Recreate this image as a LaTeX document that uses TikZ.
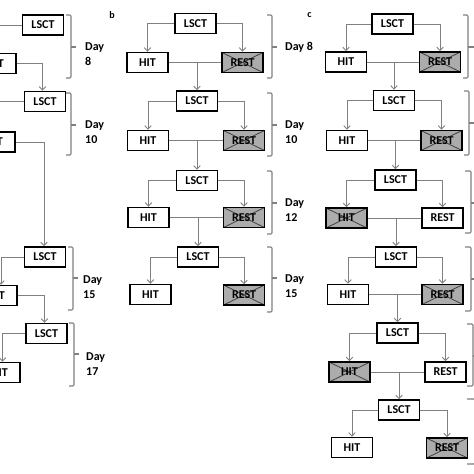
\documentclass[tikz,border=0pt]{standalone}
\usepackage{fontspec}
\setmainfont{Carlito}
\usetikzlibrary{arrows.meta}
\begin{document}
\begin{tikzpicture}[x=1pt,y=-1pt,
  box/.style={draw=black, line width=1.5pt, minimum width=41pt, minimum height=20pt, inner sep=0pt,
    fill=white, font=\bfseries\fontsize{12}{14}\selectfont},
  xbox/.style={box, fill=gray!65, path picture={\draw[line width=0.8pt, black!75]
    (path picture bounding box.north west) -- (path picture bounding box.south east)
    (path picture bounding box.south west) -- (path picture bounding box.north east);}},
  conn/.style={draw=gray, line width=0.9pt},
  arr/.style={conn, -{Straight Barb[length=3.5pt, width=6.5pt]}},
  brk/.style={draw=gray, line width=1.1pt, rounded corners=1.2pt},
  day/.style={anchor=west, align=left, inner sep=0pt, font=\bfseries\fontsize{12}{15}\selectfont},
  plabel/.style={inner sep=0pt, font=\bfseries\fontsize{10}{12}\selectfont}]
\useasboundingbox (0,0) rectangle (474,474);
\clip (0,0) rectangle (474,474);
\fill[white] (0,0) rectangle (474,474);

% ---------- panel a ----------
\node[box] (La1) at (43,25) {LSCT};
\node[box] (Ha1) at (-4.5,63.5) {HIT};
\node[box] (La2) at (45,101.5) {LSCT};
\node[box] (Ha2) at (-5.5,142) {HIT};
\node[box] (La3) at (45,257) {LSCT};
\node[box] (Ha3) at (-3.5,295.5) {HIT};
\node[box] (La4) at (46.5,333.5) {LSCT};
\node[box] (Ha4) at (-0.5,372.5) {HIT};

\draw[arr] (La1.west) -| (Ha1.north);
\draw[arr] (Ha1.east) -| ([xshift=-2.5pt]La2.north);
\draw[arr] (La2.west) -| (Ha2.north);
\draw[arr] (Ha2.east) -| ([xshift=-1pt]La3.north);
\draw[arr] (La3.west) -| ([xshift=4.5pt]Ha3.north);
\draw[arr] (Ha3.east) -| ([xshift=-2pt]La4.north);
\draw[arr] (La4.west) -| ([xshift=3pt]Ha4.north);

\draw[brk] (66,15) -- (71,15) -- (71,78) -- (66,78);  \draw[brk] (71,47) -- (76,47);
\draw[brk] (66,93) -- (71,93) -- (71,155) -- (66,155); \draw[brk] (71,125) -- (76,125);
\draw[brk] (68,247) -- (73,247) -- (73,310) -- (68,310); \draw[brk] (73,278) -- (78,278);
\draw[brk] (69,323) -- (74,323) -- (74,386) -- (69,386); \draw[brk] (74,354) -- (79,354);

\node[day] (Da1) at (85,54) {Day\\8};
\node[day] (Da2) at (85,132) {Day\\10};
\node[day] (Da3) at (83,287) {Day\\15};
\node[day] (Da4) at (86,364) {Day\\17};

% ---------- panel b ----------
\node[plabel] (lb) at (112,15) {b};
\node[box]  (Lb1) at (195.5,23.5) {LSCT};
\node[box]  (Hb1) at (147.5,62.5) {HIT};
\node[xbox] (Rb1) at (242.5,62.5) {REST};
\node[box]  (Lb2) at (197,101) {LSCT};
\node[box]  (Hb2) at (148,140.5) {HIT};
\node[xbox] (Rb2) at (244,140.5) {REST};
\node[box]  (Lb3) at (197,180.5) {LSCT};
\node[box]  (Hb3) at (148.5,217.5) {HIT};
\node[xbox] (Rb3) at (244,217.5) {REST};
\node[box]  (Lb4) at (198,257) {LSCT};
\node[box]  (Hb4) at (150.5,294.5) {HIT};
\node[xbox] (Rb4) at (244,295) {REST};

\foreach \i/\j in {1/2,2/3,3/4}{
  \draw[conn] (Hb\i.east) -- (Rb\i.west);
  \draw[arr] (Lb\j.north |- Hb\i.east) -- (Lb\j.north);
}
\foreach \i in {1,2,3,4}{
  \draw[arr] (Lb\i.west) -| (Hb\i.north);
  \draw[arr] (Lb\i.east) -| (Rb\i.north);
}

\draw[brk] (267,15) -- (272,15) -- (272,78) -- (267,78);   \draw[brk] (272,47) -- (277,47);
\draw[brk] (267,93) -- (272,93) -- (272,156) -- (267,156);  \draw[brk] (272,125) -- (277,125);
\draw[brk] (267,171) -- (272,171) -- (272,234) -- (267,234); \draw[brk] (272,203) -- (277,203);
\draw[brk] (267,247) -- (272,247) -- (272,312) -- (267,312); \draw[brk] (272,278) -- (277,278);

\node[day] (Db1) at (285,47) {Day 8};
\node[day] (Db2) at (285,132) {Day\\10};
\node[day] (Db3) at (285,210) {Day\\12};
\node[day] (Db4) at (285,286) {Day\\15};

% ---------- panel c ----------
\node[plabel] (lc) at (309.5,15.5) {c};
\node[box]  (Lc1) at (392.5,24) {LSCT};
\node[box]  (Hc1) at (346,62) {HIT};
\node[xbox] (Rc1) at (440,62) {REST};
\node[box]  (Lc2) at (394,100.5) {LSCT};
\node[box]  (Hc2) at (347,140.5) {HIT};
\node[xbox] (Rc2) at (441.5,140.5) {REST};
\node[box]  (Lc3) at (395.5,180) {LSCT};
\node[xbox] (Hc3) at (346.5,218) {HIT};
\node[box]  (Rc3) at (442.5,218) {REST};
\node[box]  (Lc4) at (396,257) {LSCT};
\node[box]  (Hc4) at (348,294.5) {HIT};
\node[xbox] (Rc4) at (442.5,294.5) {REST};
\node[box]  (Lc5) at (397.5,333) {LSCT};
\node[xbox] (Hc5) at (349.5,372) {HIT};
\node[box]  (Rc5) at (445.5,372) {REST};
\node[box]  (Lc6) at (399,410) {LSCT};
\node[box]  (Hc6) at (352,447.5) {HIT};
\node[xbox] (Rc6) at (447,448) {REST};

\foreach \i/\j in {1/2,2/3,3/4,4/5,5/6}{
  \draw[conn] (Hc\i.east) -- (Rc\i.west);
  \draw[arr] (Lc\j.north |- Hc\i.east) -- (Lc\j.north);
}
\foreach \i in {1,2,3,4,5,6}{
  \draw[arr] (Lc\i.west) -| (Hc\i.north);
  \draw[arr] (Lc\i.east) -| (Rc\i.north);
}

\draw[brk] (463,15) -- (468,15) -- (468,78) -- (463,78);    \draw[brk] (468,47) -- (474,47);
\draw[brk] (464,91) -- (469,91) -- (469,155) -- (464,155);  \draw[brk] (469,123) -- (474,123);
\draw[brk] (465,171) -- (471,171) -- (471,233) -- (465,233); \draw[brk] (471,203) -- (476,203);
\draw[brk] (465,247) -- (471,247) -- (471,311) -- (465,311); \draw[brk] (471,279) -- (476,279);
\draw[brk] (467,324) -- (473,324) -- (473,386) -- (467,386); \draw[brk] (473,356) -- (478,356);
\draw[brk] (467,399) -- (475,399) -- (475,464) -- (467,464);
\end{tikzpicture}
\end{document}
